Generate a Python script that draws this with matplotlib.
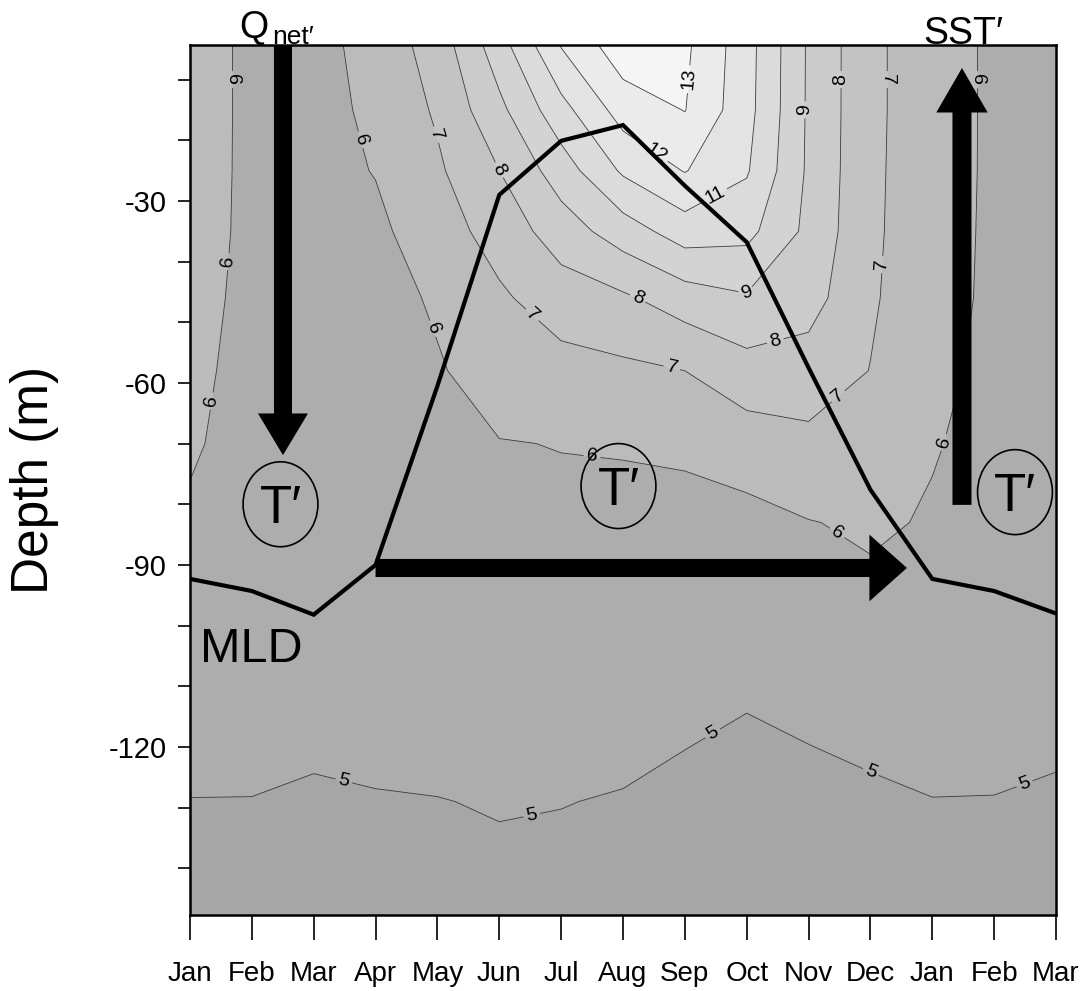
import matplotlib.pyplot as plt
import numpy as np
from matplotlib.patches import Ellipse

plt.rcParams['font.family'] = ['Liberation Sans', 'DejaVu Sans']
plt.rcParams['axes.unicode_minus'] = False

months = ['Jan', 'Feb', 'Mar', 'Apr', 'May', 'Jun', 'Jul', 'Aug',
          'Sep', 'Oct', 'Nov', 'Dec', 'Jan', 'Feb', 'Mar']
depth = [-4, -15, -25, -35, -46, -58, -70, -83, -97, -112, -129, -149]

# temperature (deg C): one row per depth level, one column per month
temp = [
    [6.33, 5.85, 5.66, 6.38, 7.45, 9.60, 12.10, 13.65, 13.20, 11.40, 8.87, 7.22, 6.41, 5.85, 5.75],
    [6.33, 5.85, 5.66, 6.20, 7.13, 8.75, 10.65, 12.45, 13.03, 11.35, 8.86, 7.22, 6.41, 5.85, 5.75],
    [6.32, 5.85, 5.67, 6.04, 6.85, 8.00, 9.50, 11.15, 12.05, 11.10, 8.84, 7.20, 6.40, 5.85, 5.75],
    [6.29, 5.85, 5.68, 5.79, 6.55, 7.40, 8.50, 9.50, 10.50, 10.30, 8.75, 7.18, 6.38, 5.84, 5.75],
    [6.24, 5.82, 5.70, 5.65, 6.12, 6.85, 7.50, 7.85, 8.50, 8.90, 8.40, 7.12, 6.36, 5.82, 5.74],
    [6.15, 5.80, 5.72, 5.70, 5.92, 6.40, 6.65, 6.80, 7.00, 7.60, 7.55, 6.98, 6.20, 5.80, 5.72],
    [6.07, 5.78, 5.72, 5.75, 5.85, 5.97, 6.02, 6.04, 6.08, 6.50, 6.76, 6.55, 6.05, 5.78, 5.70],
    [5.92, 5.70, 5.70, 5.75, 5.80, 5.85, 5.85, 5.85, 5.85, 5.70, 5.97, 6.12, 5.93, 5.70, 5.65],
    [5.80, 5.55, 5.55, 5.60, 5.65, 5.70, 5.65, 5.60, 5.55, 5.45, 5.60, 5.80, 5.75, 5.50, 5.50],
    [5.50, 5.40, 5.35, 5.35, 5.40, 5.45, 5.40, 5.35, 5.20, 5.05, 5.20, 5.30, 5.45, 5.30, 5.30],
    [4.98, 4.98, 4.87, 4.95, 4.98, 5.05, 5.02, 4.95, 4.80, 4.70, 4.75, 4.88, 4.98, 4.98, 4.88],
    [4.70, 4.70, 4.60, 4.65, 4.70, 4.75, 4.70, 4.65, 4.50, 4.50, 4.55, 4.65, 4.70, 4.70, 4.60],
]

# mixed layer depth (m)
mld = [-92.3, -94.3, -98.2, -90.0, -60.5, -29.0, -20.1, -17.5, -27.5,
       -36.8, -57.5, -77.6, -92.3, -94.3, -98.0]

levels = [0, 5, 6, 7, 8, 9, 10, 11, 12, 13, 20]
grays = ['#a6a6a6', '#adadad', '#bbbbbb', '#c3c3c3', '#cbcbcb',
         '#d3d3d3', '#dbdbdb', '#e3e3e3', '#ebebeb', '#f5f5f5']

W, H = 1086, 991
fig = plt.figure(figsize=(W / 100, H / 100), dpi=100)
ax = fig.add_axes([190 / W, 1 - 915 / H, 866 / W, 870 / H])

x = np.arange(len(months))
X, Y = np.meshgrid(x, depth)
T = np.array(temp)

ax.contourf(X, Y, T, levels=levels, colors=grays)
cs = ax.contour(X, Y, T, levels=levels[1:-1], colors='#3a3a3a', linewidths=0.6)

# label positions
spots = [(0.74, -10), (0.61, -40), (0.37, -63), (2.73, -20), (3.94, -51),
         (6.5, -72), (10.47, -84.6), (12.26, -70), (12.7, -10),
         (4.0, -19), (5.56, -48.5), (7.8, -57), (10.43, -61.6), (11.2, -40.5), (11.24, -10),
         (4.98, -25), (7.24, -46), (9.46, -53), (10.56, -10),
         (9.0, -45.8), (9.91, -15), (8.49, -29), (7.52, -22.4), (8.13, -10),
         (2.5, -125), (5.5, -130), (8.49, -118.5), (11.0, -124.3), (13.5, -126.3)]
ax.clabel(cs, fmt='%d', fontsize=14, colors='k', inline=True, inline_spacing=3, manual=spots)

ax.plot(x, mld, color='k', lw=3, solid_joinstyle='miter')

# arrows
ax.annotate('', xy=(1.503, -71.9), xytext=(1.503, -4.3),
            arrowprops=dict(arrowstyle='simple,head_length=30,head_width=36,tail_width=13',
                            mutation_scale=1, fc='k', lw=0, shrinkA=0, shrinkB=0))
ax.annotate('', xy=(12.48, -8.1), xytext=(12.48, -80.1),
            arrowprops=dict(arrowstyle='simple,head_length=32,head_width=37,tail_width=13.7',
                            mutation_scale=1, fc='k', lw=0, shrinkA=0, shrinkB=0))
ax.annotate('', xy=(11.59, -90.5), xytext=(3.0, -90.5),
            arrowprops=dict(arrowstyle='simple,head_length=27,head_width=48,tail_width=13',
                            mutation_scale=1, fc='k', lw=0, shrinkA=0, shrinkB=0))

# T' bubbles
for cx, cy in [(1.463, -80.0), (6.927, -77.0), (13.337, -78.0)]:
    ax.add_patch(Ellipse((cx, cy), 1.21, 14.0, fill=False, ec='k', lw=1.2))
    ax.text(cx, cy - 0.8, 'T\u2032', ha='center', va='center', fontsize=38)

ax.text(0.16, -106, 'MLD', fontsize=35, ha='left', va='baseline')

ax.set_xlim(0, 14)
ax.set_ylim(-147.7, -4.3)
ax.set_xticks(x)
ax.set_xticklabels(months)
ax.set_yticks([-30, -60, -90, -120])
ax.set_yticks([-140, -130, -110, -100, -80, -70, -50, -40, -20, -10], minor=True)
ax.tick_params(axis='x', direction='out', length=18, width=1.2, labelsize=20, pad=15)
ax.tick_params(axis='y', which='both', direction='out', length=9, width=1.2, labelsize=21, pad=8)
for s in ax.spines.values():
    s.set_linewidth(1.8)

fig.text(239 / W, 1 - 38 / H, 'Q', fontsize=27, ha='left', va='baseline')
fig.text(272 / W, 1 - 44 / H, 'net\u2032', fontsize=19, ha='left', va='baseline')
fig.text(923 / W, 1 - 44 / H, 'SST\u2032', fontsize=27, ha='left', va='baseline')
fig.text(35 / W, 1 - 480 / H, 'Depth (m)', rotation=90, ha='center', va='center', fontsize=37)

fig.savefig('out.png', dpi=100)
